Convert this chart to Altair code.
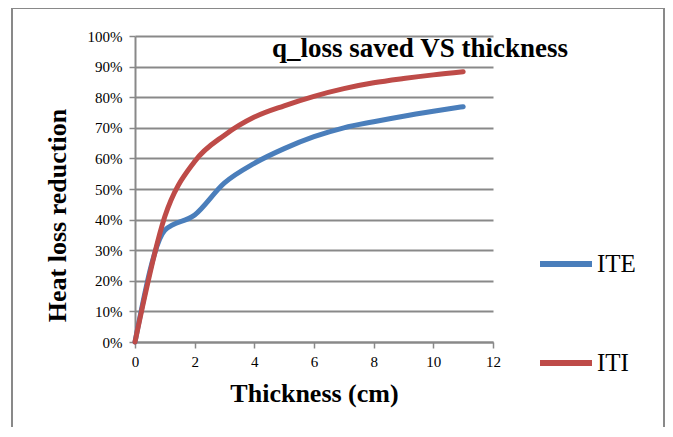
import altair as alt
import pandas as pd

thickness = [0, 1, 2, 3, 4, 5, 6, 7, 8, 9, 10, 11]
ite = [0.0, 0.365, 0.415, 0.52, 0.584, 0.632, 0.671, 0.70, 0.72, 0.738, 0.754, 0.769]
iti = [0.0, 0.41, 0.59, 0.676, 0.735, 0.772, 0.803, 0.828, 0.847, 0.861, 0.873, 0.883]
series = ["ITE", "ITI"]
colors = ["#4A7EBB", "#BE4B48"]
x_ticks = [0, 2, 4, 6, 8, 10, 12]
y_ticks = [i / 10 for i in range(11)]
title_text = "q_loss saved VS thickness"

rows = []
for name, vals in zip(series, [ite, iti]):
    for t, v in zip(thickness, vals):
        rows.append({"Thickness": t, "Value": v, "Series": name})
df = pd.DataFrame(rows)

FONT = "Liberation Serif"
GRAY = "#898989"

lines = alt.Chart(df).mark_line(strokeWidth=5, interpolate="monotone", strokeCap="round").encode(
    x=alt.X("Thickness:Q",
            scale=alt.Scale(domain=[0, 12], nice=False, zero=False),
            axis=alt.Axis(values=x_ticks, grid=False, title="Thickness (cm)",
                          titleFont=FONT, titleFontSize=26, titleFontWeight="bold",
                          titleColor="black", titleBaseline="alphabetic", titleY=59,
                          labelFont=FONT, labelFontSize=15, labelColor="black",
                          labelFlush=False,
                          labelPadding=6, tickSize=6, tickColor=GRAY, tickWidth=1.5,
                          domainColor=GRAY, domainWidth=2)),
    y=alt.Y("Value:Q",
            scale=alt.Scale(domain=[0, 1], nice=False),
            axis=alt.Axis(values=y_ticks, format=".0%", grid=True, gridColor=GRAY,
                          gridWidth=2, title="Heat loss reduction",
                          titleFont=FONT, titleFontSize=26, titleFontWeight="bold",
                          titleColor="black", titleBaseline="alphabetic",
                          titleX=-70, titleY=179, titleAngle=-90, titleAlign="center",
                          labelFont=FONT, labelFontSize=15, labelColor="black",
                          labelFlush=False,
                          labelPadding=7, tickSize=6, tickColor=GRAY, tickWidth=1.5,
                          domainColor=GRAY, domainWidth=2)),
    color=alt.Color("Series:N",
                    scale=alt.Scale(domain=series, range=colors),
                    legend=alt.Legend(title=None, orient="none", legendX=402, legendY=199,
                                      symbolType="stroke", symbolSize=2704,
                                      symbolStrokeWidth=6, labelFont=FONT,
                                      labelFontSize=25, labelColor="black",
                                      labelOffset=2, rowPadding=57)),
)

frame = alt.Chart(pd.DataFrame({"a": [0]})).mark_rect(
    fill=None, stroke=GRAY, strokeWidth=2
).encode(
    x=alt.value(-123), x2=alt.value(529), y=alt.value(-28), y2=alt.value(430)
)

title = alt.Chart(pd.DataFrame({"t": [title_text]})).mark_text(
    font=FONT, fontSize=27, fontWeight="bold", color="black",
    align="center", baseline="alphabetic"
).encode(text="t:N", x=alt.value(285), y=alt.value(21))

chart = alt.layer(frame, lines, title).properties(
    width=358, height=306,
    autosize="none",
    padding={"left": 127, "top": 28, "right": 172, "bottom": 85},
).configure_view(stroke=None)

chart.save("out.html", embed_options={"renderer": "svg", "actions": False})
